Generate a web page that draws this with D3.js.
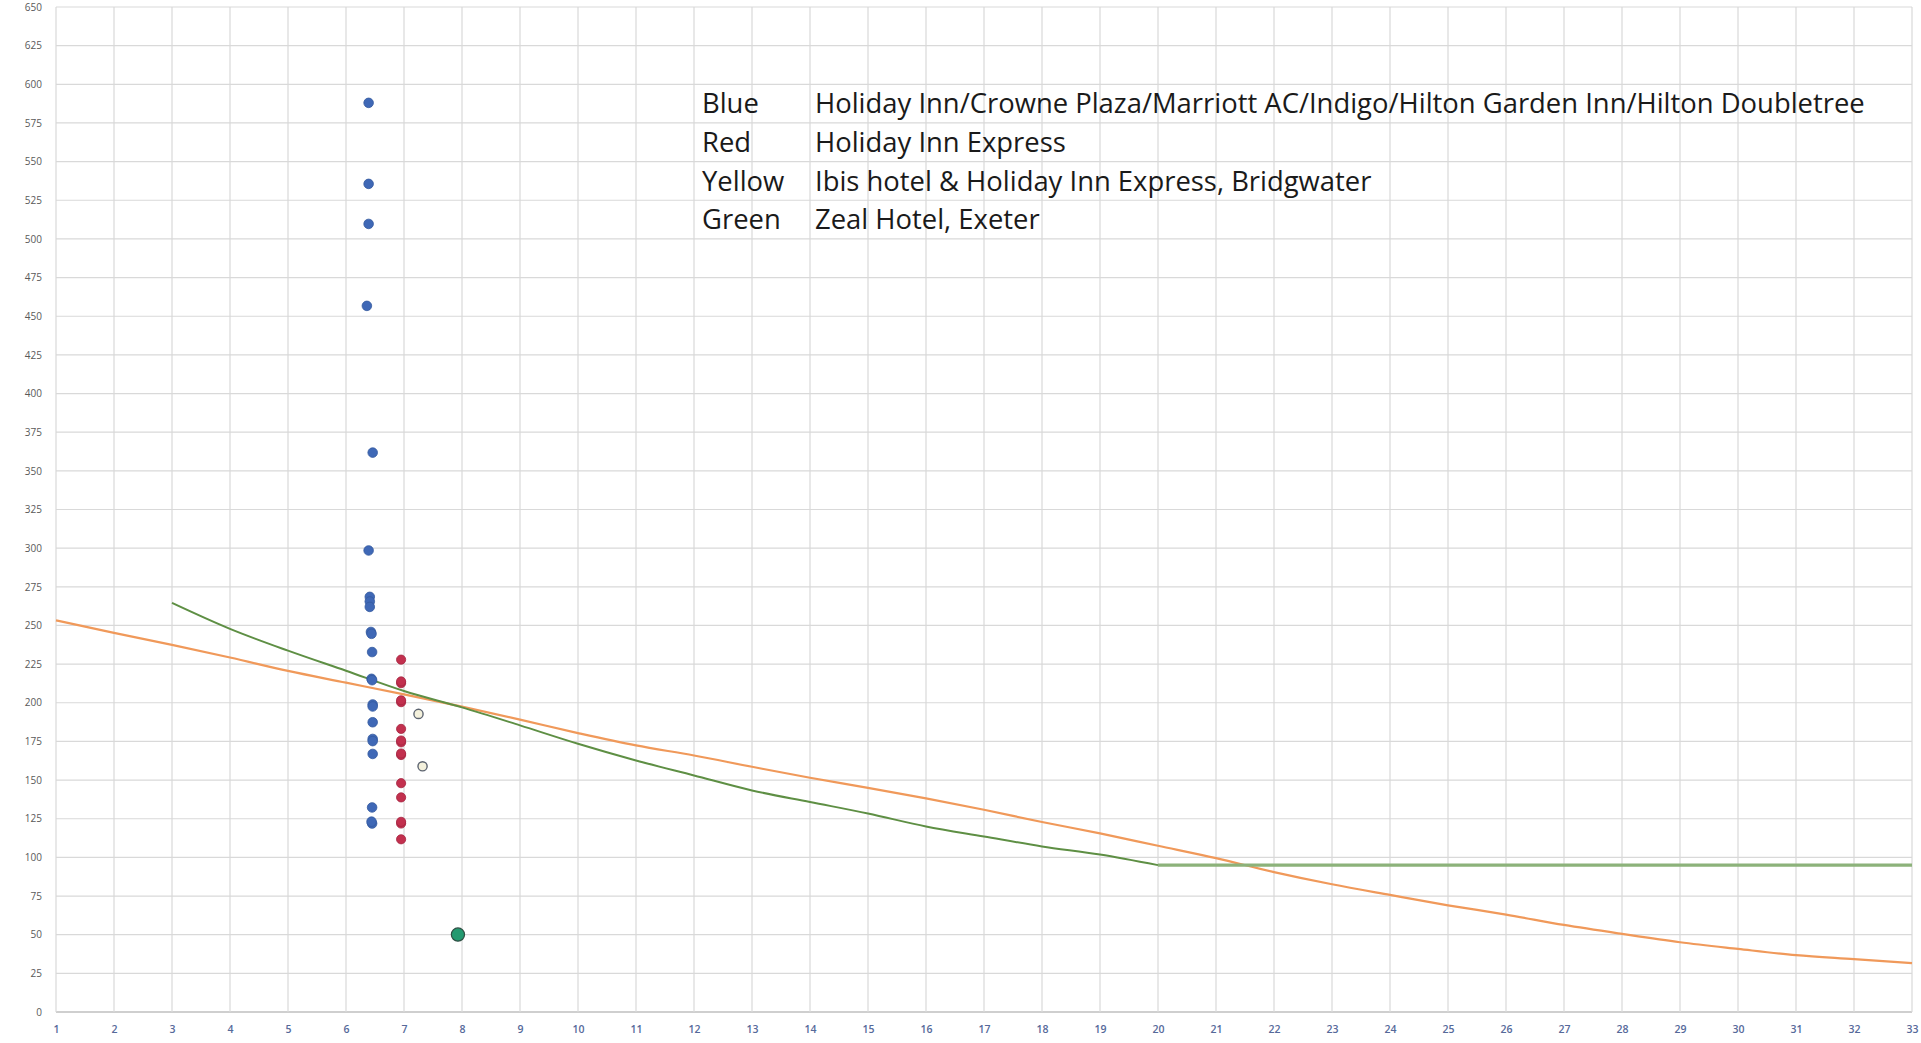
<!DOCTYPE html>
<html>
<head>
<meta charset="utf-8">
<script src="https://cdn.jsdelivr.net/npm/d3@7"></script>
<style>
  html, body { margin: 0; padding: 0; background: #ffffff; }
  svg { display: block; }
</style>
</head>
<body>
<svg id="chart" width="1921" height="1043"></svg>
<script>
// ---------------- data ----------------
const xTicks = d3.range(1, 34);              // 1 .. 33
const yTicks = d3.range(0, 651, 25);         // 0 .. 650

const orangeX = d3.range(1, 34);
const orangeY = [253.3, 245.2, 237.4, 229.3, 220.6, 213.0, 205.4, 197.5, 189.1, 180.4,
                 172.4, 165.9, 158.6, 151.5, 145.0, 138.2, 130.8, 122.9, 115.5, 107.5,
                 99.5, 90.5, 82.6, 75.7, 69.0, 63.0, 56.3, 50.5, 45.1, 40.8,
                 36.8, 34.2, 31.6];

const greenCurveX = d3.range(3, 21);
const greenCurveY = [264.6, 247.8, 233.7, 220.7, 207.6, 197.0, 185.4, 173.5, 162.7, 153.0,
                     143.3, 135.8, 128.4, 120.0, 113.5, 107.1, 101.9, 95.0];
const greenFloorX = [20, 33];
const greenFloorY = [95, 95];

const blueHotels = [
  [6.39, 588], [6.39, 535.6], [6.39, 509.7], [6.36, 456.7], [6.46, 361.8], [6.39, 298.5],
  [6.41, 268.5], [6.41, 265.5], [6.41, 262], [6.43, 245.8], [6.44, 244.6], [6.45, 232.8],
  [6.44, 215.5], [6.45, 214.6], [6.46, 198.9], [6.46, 197.6], [6.46, 187.4], [6.46, 176.6],
  [6.46, 175.2], [6.46, 166.9], [6.45, 132.3], [6.45, 121.9], [6.44, 123.1]
];
const redHotels = [
  [6.95, 227.9], [6.95, 212.7], [6.95, 213.8], [6.95, 200.4], [6.95, 201.6], [6.95, 183.1],
  [6.95, 174.4], [6.95, 175.6], [6.95, 166.2], [6.95, 167.2], [6.95, 148.0], [6.95, 138.8],
  [6.95, 121.9], [6.95, 123.0], [6.95, 111.7]
];
const yellowHotels = [[7.25, 192.8], [7.32, 158.9]];
const greenHotels = [[7.93, 50.1]];

const legendKeys  = ["Blue", "Red", "Yellow", "Green"];
const legendNames = ["Holiday Inn/Crowne Plaza/Marriott AC/Indigo/Hilton Garden Inn/Hilton Doubletree",
                     "Holiday Inn Express",
                     "Ibis hotel & Holiday Inn Express, Bridgwater",
                     "Zeal Hotel, Exeter"];
const legendRowValues = [587.5, 562.5, 537.5, 512.5];   // row centres in chart units

// ---------------- drawing ----------------
const svg = d3.select("#chart");
const W = 1921, H = 1043;
svg.append("rect").attr("width", W).attr("height", H).attr("fill", "#ffffff");

const x = d3.scaleLinear().domain([1, 33]).range([56, 1912]);
const y = d3.scaleLinear().domain([0, 650]).range([1012, 7]);

// gridlines
const grid = svg.append("g");
grid.selectAll("line.h").data(yTicks).join("line")
  .attr("x1", x(1)).attr("x2", x(33))
  .attr("y1", d => y(d)).attr("y2", d => y(d))
  .attr("stroke", d => d === 0 ? "#bfbfbf" : "#d9d9d9").attr("stroke-width", d => d === 0 ? 1.5 : 1.2);
grid.selectAll("line.v").data(xTicks).join("line")
  .attr("y1", y(0)).attr("y2", y(650))
  .attr("x1", d => x(d)).attr("x2", d => x(d))
  .attr("stroke", "#d9d9d9").attr("stroke-width", 1.2);

// axes (labels only)
const yAxis = d3.axisLeft(y).tickValues(yTicks).tickSize(0).tickPadding(14);
const gy = svg.append("g").attr("transform", `translate(${x(1)},0)`).call(yAxis);
gy.select(".domain").remove();
gy.selectAll("text").attr("font-family", "Open Sans, sans-serif").attr("font-size", 10)
  .attr("fill", "#595959");

const xAxis = d3.axisBottom(x).tickValues(xTicks).tickSize(0).tickPadding(14);
const gx = svg.append("g").attr("transform", `translate(0,${y(0)})`).call(xAxis);
gx.select(".domain").remove();
gx.selectAll("text").attr("font-family", "Open Sans, sans-serif").attr("font-size", 10.5)
  .attr("font-weight", 600).attr("fill", "#56699a");

// lines
const line = d3.line().x(d => x(d[0])).y(d => y(d[1]));
svg.append("path").datum(orangeX.map((d, i) => [d, orangeY[i]]))
  .attr("d", line.curve(d3.curveMonotoneX)).attr("fill", "none")
  .attr("stroke", "#f0995a").attr("stroke-width", 2.2);
svg.append("path").datum(greenFloorX.map((d, i) => [d, greenFloorY[i]]))
  .attr("d", d3.line().x(d => x(d[0])).y(d => y(d[1]))).attr("fill", "none")
  .attr("stroke", "#8cb27a").attr("stroke-width", 3.2);
svg.append("path").datum(greenCurveX.map((d, i) => [d, greenCurveY[i]]))
  .attr("d", d3.line().x(d => x(d[0])).y(d => y(d[1])).curve(d3.curveMonotoneX)).attr("fill", "none")
  .attr("stroke", "#5e8f44").attr("stroke-width", 2);

// points
function dots(data, r, fill, stroke, sw) {
  svg.append("g").selectAll("circle").data(data).join("circle")
    .attr("cx", d => x(d[0])).attr("cy", d => y(d[1])).attr("r", r)
    .attr("fill", fill).attr("stroke", stroke).attr("stroke-width", sw);
}
dots(blueHotels, 4.8, "#3f68b6", "#34599e", 0.8);
dots(redHotels, 4.6, "#c2304e", "#a52540", 0.8);
dots(yellowHotels, 4.6, "#f4f1dc", "#5d6470", 1.4);
dots(greenHotels, 6.6, "#239a70", "#2f4f44", 1.2);

// legend text
const lg = svg.append("g").attr("font-family", "Open Sans, sans-serif").attr("fill", "#1a1a1a");
const keyX = 702, nameX = 815;
lg.selectAll("text.k").data(legendKeys).join("text")
  .attr("x", keyX).attr("y", (d, i) => y(legendRowValues[i]))
  .attr("dy", "0.35em").attr("font-size", 24).text(d => d);
const names = lg.selectAll("text.n").data(legendNames).join("text")
  .attr("x", nameX).attr("y", (d, i) => y(legendRowValues[i]))
  .attr("dy", "0.35em").attr("font-size", 24).text(d => d);
// scale font so the longest line spans its width in the reference (~1050px)
const longest = names.nodes()[0].getComputedTextLength();
const fs = 24 * 1050 / longest;
lg.selectAll("text").attr("font-size", fs);
</script>
</body>
</html>
